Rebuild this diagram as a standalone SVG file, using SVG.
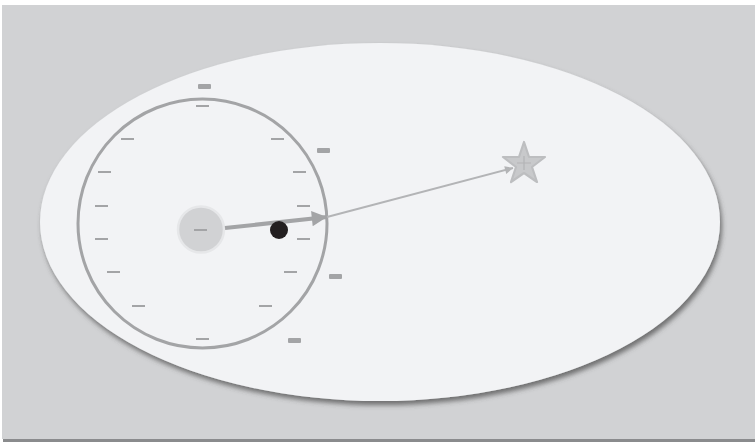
<svg xmlns="http://www.w3.org/2000/svg" width="755" height="442" viewBox="0 0 755 442">
<style>
.tick{fill:#a3a4a6}
.lbl{fill:#a3a4a6}
</style>
<defs>
<filter id="sh" x="-10%" y="-10%" width="120%" height="130%">
<feDropShadow dx="2" dy="4" stdDeviation="2.5" flood-color="#444" flood-opacity="0.7"/>
</filter>
<marker id="ah1" viewBox="0 0 10 10" refX="10" refY="5" markerWidth="6.2" markerHeight="3.8" orient="auto" markerUnits="strokeWidth"><path d="M0,0 L10,5 L0,10 z" fill="#a3a4a6"/></marker>
<marker id="ah2" viewBox="0 0 10 10" refX="10" refY="5" markerWidth="6" markerHeight="4" orient="auto" markerUnits="strokeWidth"><path d="M0,0 L10,5 L0,10 z" fill="#b3b4b6"/></marker>
</defs>
<rect x="0" y="0" width="755" height="442" fill="#ffffff"/>
<rect x="3" y="439" width="752" height="3" fill="#8a8b8d"/>
<rect x="2" y="5" width="753" height="434" fill="#d1d2d4"/>
<g id="field">
<ellipse cx="380" cy="222" rx="340" ry="179" fill="#f2f3f5" filter="url(#sh)"/>
</g>
<g id="dial">
<circle cx="202.5" cy="223.5" r="124.5" fill="none" stroke="#a3a4a6" stroke-width="3"/>
<g id="ticks">
<rect class="tick" x="196" y="105" width="13" height="2"/>
<rect class="tick" x="121" y="138" width="13" height="2"/>
<rect class="tick" x="271" y="138" width="13" height="2"/>
<rect class="tick" x="98" y="171" width="13" height="2"/>
<rect class="tick" x="293" y="171" width="13" height="2"/>
<rect class="tick" x="95" y="205" width="13" height="2"/>
<rect class="tick" x="297" y="205" width="13" height="2"/>
<rect class="tick" x="95" y="238" width="13" height="2"/>
<rect class="tick" x="297" y="238" width="13" height="2"/>
<rect class="tick" x="107" y="271" width="13" height="2"/>
<rect class="tick" x="284" y="271" width="13" height="2"/>
<rect class="tick" x="132" y="305" width="13" height="2"/>
<rect class="tick" x="259" y="305" width="13" height="2"/>
<rect class="tick" x="196" y="338" width="13" height="2"/>
</g>
<g id="labels">
<rect class="lbl" x="198" y="84" width="13" height="5" rx="1"/>
<rect class="lbl" x="317" y="148" width="13" height="5" rx="1"/>
<rect class="lbl" x="329" y="274" width="13" height="5" rx="1"/>
<rect class="lbl" x="288" y="338" width="13" height="5" rx="1"/>
</g>
</g>
<g id="hub">
<circle cx="201" cy="229.5" r="23" fill="#d1d2d4" stroke="#e6e7e9" stroke-width="2.5"/>
<rect class="tick" x="194" y="229" width="13" height="2"/>
</g>
<g id="connectors">
<line x1="225" y1="228" x2="327" y2="217" stroke="#a3a4a6" stroke-width="4" marker-end="url(#ah1)"/>
<line x1="327" y1="217" x2="513" y2="168" stroke="#b3b4b6" stroke-width="2" marker-end="url(#ah2)"/>
</g>
<g id="dot">
<circle cx="279" cy="230" r="9" fill="#231f20"/>
</g>
<g id="star">
<path d="M524,142 L529,157 L545,157 L532,167 L537,182 L524,173 L511,182 L516,167 L503,157 L519,157 Z" fill="#c8c9cb" stroke="#bdbec0" stroke-width="2.2" stroke-linejoin="round"/>
<path d="M524,156 V170 M517,163 H531" stroke="#b3b4b6" stroke-width="1.2" fill="none"/>
</g>
</svg>
